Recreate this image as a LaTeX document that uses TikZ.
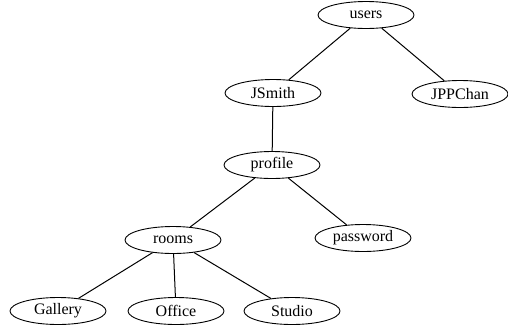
\documentclass[tikz,border=0pt]{standalone}
\usepackage{fontspec}
\setmainfont{Liberation Serif}
\usetikzlibrary{shapes.geometric}
\begin{document}
\begin{tikzpicture}[x=1pt,y=-1pt,
		keynode/.style={draw, ellipse, line width=0.9pt, minimum width=96pt, minimum height=27pt, inner sep=1pt, font=\fontsize{16}{19}\selectfont},
		edge/.style={line width=1pt}]
			\useasboundingbox (0,0) rectangle (508,327);
			% tree of keys
			\node (users)    [keynode] at (366,15)  {users};
			\node (jsmith)   [keynode] at (273,93)  {JSmith};
			\node (jppchan)  [keynode] at (460,94)  {JPPChan};
			\node (profile)  [keynode] at (272,165) {profile};
			\node (rooms)    [keynode] at (173,240) {rooms};
			\node (password) [keynode] at (363,238) {password};
			\node (gallery)  [keynode] at (58,311)  {Gallery};
			\node (office)   [keynode] at (176,311) {Office};
			\node (studio)   [keynode] at (292,311) {Studio};
			\draw [edge] (users) -- (jsmith);
			\draw [edge] (users) -- (jppchan);
			\draw [edge] (jsmith) -- (profile);
			\draw [edge] (profile) -- (rooms);
			\draw [edge] (profile) -- (password);
			\draw [edge] (rooms) -- (gallery);
			\draw [edge] (rooms) -- (office);
			\draw [edge] (rooms) -- (studio);
		\end{tikzpicture}
\end{document}
